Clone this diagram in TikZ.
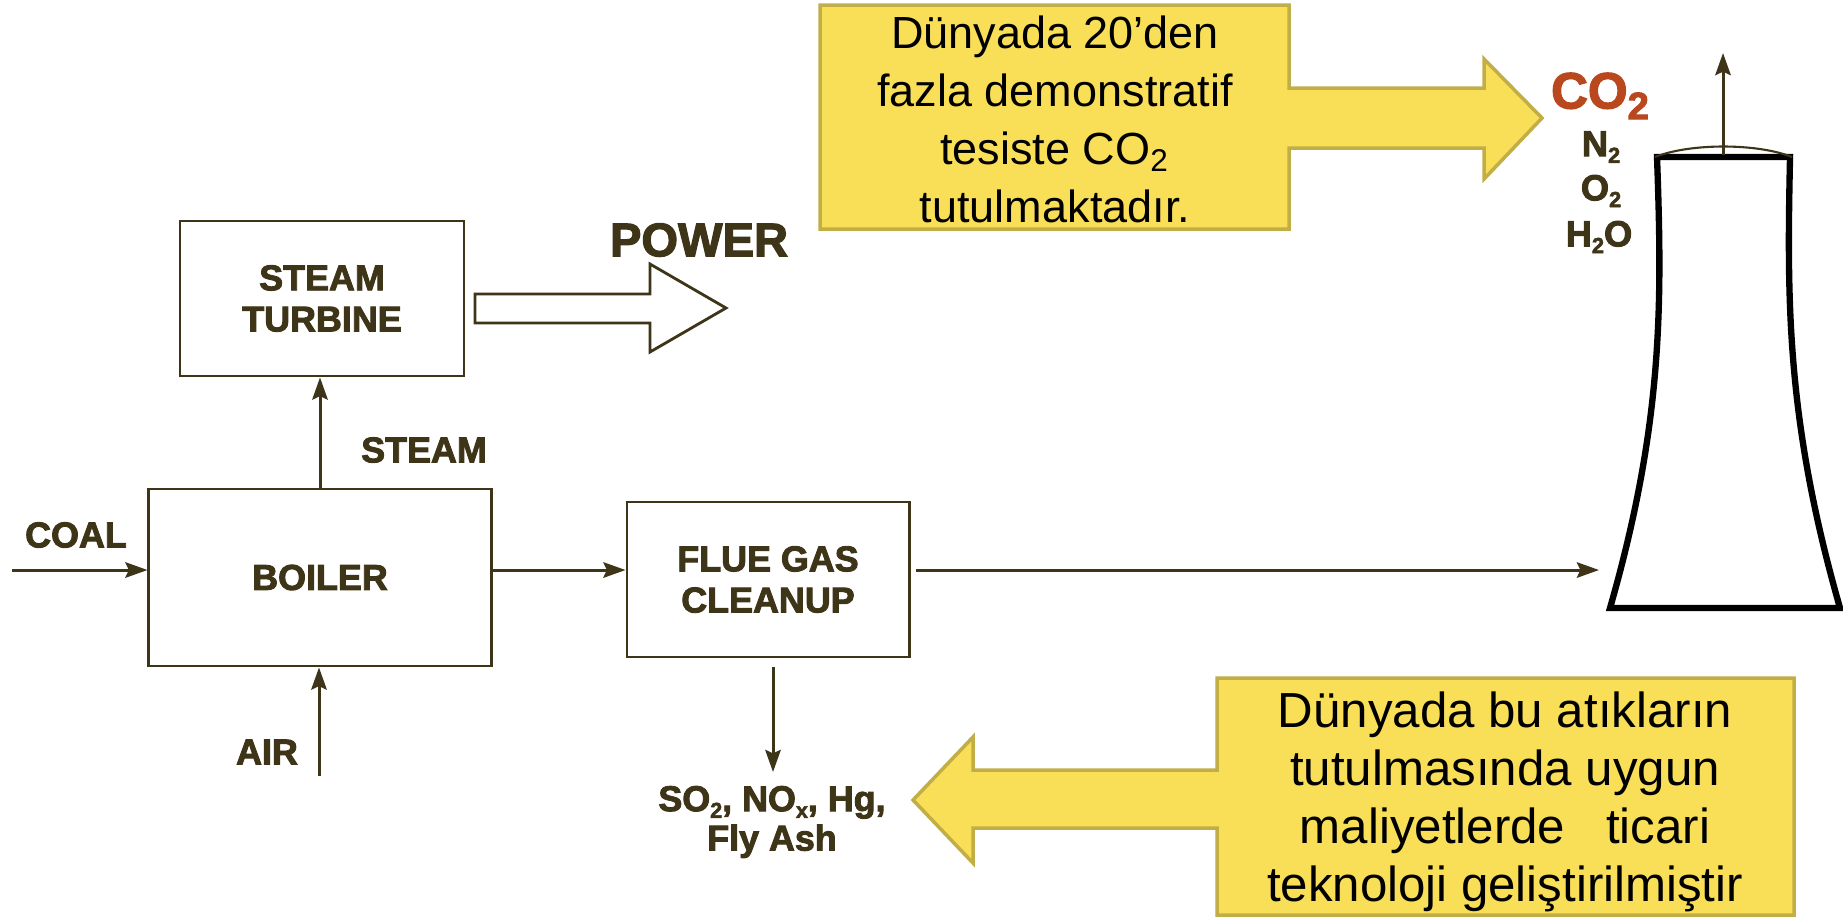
\documentclass[tikz,border=0pt]{standalone}
\usepackage{fontspec}
\setmainfont{Liberation Sans}
\newfontfamily\heavy{Liberation Sans}[BoldFeatures={FakeBold=2.5}]
\usetikzlibrary{arrows.meta}
\definecolor{ink}{RGB}{62,52,24}
\definecolor{yfill}{RGB}{249,222,88}
\definecolor{yedge}{RGB}{194,174,70}
\definecolor{co2red}{RGB}{185,72,30}
\newcommand{\lowsub}[1]{\raisebox{-0.35ex}{\scalebox{0.6}{#1}}}
\begin{document}
\begin{tikzpicture}[x=0.01cm, y=-0.01cm,
  box/.style={draw=ink, line width=0.8pt, fill=white, inner sep=0pt, text=ink,
    font=\heavy\bfseries\fontsize{10.2}{11.7}\selectfont, align=center},
  lbl/.style={text=ink, inner sep=0pt, align=center,
    font=\heavy\bfseries\fontsize{10.2}{11.7}\selectfont},
  gas/.style={text=ink, inner sep=0pt, font=\heavy\bfseries\fontsize{10.3}{11}\selectfont},
  flow/.style={draw=ink, line width=0.85pt, -{Stealth[length=6.3pt,width=4.4pt,inset=1pt]}},
  callout/.style={fill=yfill, draw=yedge, line width=1pt, line join=miter},
  calltext/.style={inner sep=0pt, align=center, text=black}
]
\useasboundingbox (0,0) rectangle (1843,917);

% boxes
\node[box, minimum width=2.84cm, minimum height=1.55cm] (turbine) at (322,298.5) {STEAM\\TURBINE};
\node[box, minimum width=3.42cm, minimum height=1.77cm] (boiler) at (320,577.5) {BOILER};
\node[box, minimum width=2.82cm, minimum height=1.55cm] (flue) at (768,579.5) {FLUE GAS\\CLEANUP};

% labels
\node[lbl] (coal) at (76,535) {COAL};
\node[lbl] (air) at (267,752) {AIR};
\node[lbl] (steam) at (424,450) {STEAM};
\node[lbl, font=\heavy\bfseries\fontsize{13.4}{15}\selectfont] (power) at (699,240) {POWER};
\node[lbl] (gases) at (772,822) {SO\lowsub{2}, NO\lowsub{x}, Hg,\\[-0.5pt]Fly Ash};

% connectors
\coordinate (coalin) at (12,570);
\coordinate (airin) at (319,776);
\coordinate (towerin) at (1599,570);
\coordinate (gasout) at (773,772);
\draw[flow] (coalin) -- (coalin -| boiler.west);
\draw[flow] (boiler.east |- coalin) -- (flue.west |- coalin);
\draw[flow, shorten <=1.5pt] (flue.east |- coalin) -- (towerin);
\draw[flow] (boiler.north) -- (boiler.north |- turbine.south);
\draw[flow] (airin) -- (airin |- boiler.south);
\draw[flow, shorten <=2.5pt] (gasout |- flue.south) -- (gasout);

% power block arrow
\draw[draw=ink, fill=white, line width=0.8pt, line join=miter]
  (475,294) -- (650,294) -- (650,264) -- (726,308) -- (650,352) -- (650,323) -- (475,323) -- cycle;

% tower
\draw[black, line width=1.8pt, line join=miter]
  (1657,157) -- (1790,157)
  .. controls (1787,300) and (1786,420) .. (1840,608)
  -- (1610,608)
  .. controls (1664,420) and (1662,300) .. (1657,157) -- cycle;
\draw[ink, line width=0.6pt] (1655,157) .. controls (1690,143) and (1757,143) .. (1792,157);
\coordinate (stacktop) at (1723,155);
\coordinate (stackout) at (1723,53);
\draw[flow] (stacktop) -- (stackout);

% exhaust gases
\node[inner sep=0pt, text=co2red, font=\heavy\bfseries\fontsize{14.5}{16}\selectfont] (co2) at (1600,96) {CO\raisebox{-0.4ex}{\scalebox{0.75}{2}}};
\node[gas] (n2) at (1601,147) {N\lowsub{2}};
\node[gas] (o2) at (1601,191) {O\lowsub{2}};
\node[gas] (h2o) at (1599,237) {H\lowsub{2}O};

% callouts
\draw[callout] (820,5) -- (1289,5) -- (1289,88) -- (1484,88) -- (1484,59) -- (1542,118)
  -- (1484,179) -- (1484,148) -- (1289,148) -- (1289,229) -- (820,229) -- cycle;
\node[calltext, font=\fontsize{12.8}{16.5}\selectfont] (topnote) at (1055,119)
  {Dünyada 20’den\\fazla demonstratif\\tesiste CO\textsubscript{2}\\tutulmaktadır.};

\draw[callout] (1217,678) -- (1794,678) -- (1794,915) -- (1217,915) -- (1217,828)
  -- (973,828) -- (973,863) -- (913,800) -- (973,737) -- (973,770) -- (1217,770) -- cycle;
\node[calltext, font=\fontsize{14}{16.5}\selectfont] (botnote) at (1505,802)
  {Dünyada bu atıkların\\tutulmasında uygun\\maliyetlerde\ \ \ ticari\\teknoloji geliştirilmiştir};
\end{tikzpicture}
\end{document}
